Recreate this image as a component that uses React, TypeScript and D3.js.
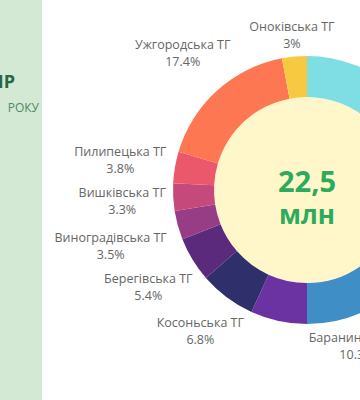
import { useEffect, useRef } from "react";
import * as d3 from "d3";

// hromadas, clockwise from 12 o'clock
const names = [
  "Мукачівська ТГ",
  "Хустська ТГ",
  "Баранинська ТГ",
  "Чопська ТГ",
  "Косоньська ТГ",
  "Берегівська ТГ",
  "Виноградівська ТГ",
  "Вишківська ТГ",
  "Пилипецька ТГ",
  "Ужгородська ТГ",
  "Оноківська ТГ",
];
const shares = [24.1, 15.6, 10.3, 6.8, 6.8, 5.4, 3.5, 3.3, 3.8, 17.4, 3];
const colors = [
  "#7fdde4",
  "#4fb8a6",
  "#3f8fc6",
  "#6b33a2",
  "#2f2f6c",
  "#5c2a7c",
  "#973d86",
  "#c6497b",
  "#ec586b",
  "#fc7752",
  "#f6c940",
];
const totalLabel = "22,5";
const unitLabel = "млн";

// label nudges from the radial anchor point [dx, dy]; null = label falls outside the crop
const nudges: ([number, number] | null)[] = [
  null,
  null,
  [-1, 4],
  null,
  [-11, 13],
  [-22, 14],
  [-42, 14],
  [-25, 3],
  [-29, -3],
  [-17, -18],
  [0, 4],
];

const W = 360;
const H = 400;
const cx = 307;
const cy = 190;
const rOuter = 134;
const rInner = 93;
const rLabel = 160;

export default function App() {
  const svgRef = useRef<SVGSVGElement>(null);

  useEffect(() => {
    document.body.style.margin = "0";
    const svg = d3.select(svgRef.current);
    svg.selectAll("*").remove();

    const font = "'Open Sans', sans-serif";

    svg.append("rect").attr("width", W).attr("height", H).attr("fill", "#fff");

    // side panel left over from the original layout
    svg.append("rect").attr("x", 0).attr("y", 0).attr("width", 42).attr("height", H).attr("fill", "#d4e9d4");
    svg
      .append("text")
      .attr("x", 15)
      .attr("y", 88)
      .attr("text-anchor", "end")
      .attr("font-family", font)
      .attr("font-weight", 700)
      .attr("font-size", 18)
      .attr("fill", "#2a6644")
      .text("ІР");
    svg
      .append("text")
      .attr("x", 39)
      .attr("y", 112)
      .attr("text-anchor", "end")
      .attr("font-family", font)
      .attr("font-size", 12)
      .attr("fill", "#4d8a64")
      .text("РОКУ");

    const data = names.map((name, i) => ({ name, value: shares[i], color: colors[i], nudge: nudges[i] }));
    const pie = d3.pie<any>().sort(null).value((d) => d.value);
    const arcs = pie(data);
    const arc = d3.arc<any>().innerRadius(rInner).outerRadius(rOuter);

    const g = svg.append("g").attr("transform", `translate(${cx},${cy})`);

    g.append("circle").attr("r", rInner).attr("fill", "#fff7c9");

    g.selectAll(".slice")
      .data(arcs)
      .join("path")
      .attr("class", "slice")
      .attr("d", arc)
      .attr("fill", (d) => d.data.color);

    const labelArc = d3.arc<any>().innerRadius(rLabel).outerRadius(rLabel);
    const labels = g
      .selectAll(".label")
      .data(arcs.filter((d) => d.data.nudge))
      .join("g")
      .attr("class", "label")
      .attr("transform", (d) => {
        const [x, y] = labelArc.centroid(d);
        return `translate(${x + d.data.nudge[0]},${y + d.data.nudge[1]})`;
      });
    labels
      .append("text")
      .attr("y", -8.5)
      .attr("dy", "0.35em")
      .attr("text-anchor", "middle")
      .attr("font-family", font)
      .attr("font-size", 12.5)
      .attr("fill", "#666")
      .text((d) => d.data.name);
    labels
      .append("text")
      .attr("y", 8.5)
      .attr("dy", "0.35em")
      .attr("text-anchor", "middle")
      .attr("font-family", font)
      .attr("font-size", 12.5)
      .attr("fill", "#666")
      .text((d) => `${d.data.value}%`);

    g.append("text")
      .attr("x", 0)
      .attr("y", -8)
      .attr("dy", "0.35em")
      .attr("text-anchor", "middle")
      .attr("font-family", font)
      .attr("font-weight", 700)
      .attr("font-size", 29)
      .attr("fill", "#2cab5c")
      .text(totalLabel);
    g.append("text")
      .attr("x", 0)
      .attr("y", 25)
      .attr("dy", "0.35em")
      .attr("text-anchor", "middle")
      .attr("font-family", font)
      .attr("font-weight", 700)
      .attr("font-size", 26)
      .attr("fill", "#2cab5c")
      .text(unitLabel);
  }, []);

  return <svg ref={svgRef} width={W} height={H} style={{ display: "block" }} />;
}
